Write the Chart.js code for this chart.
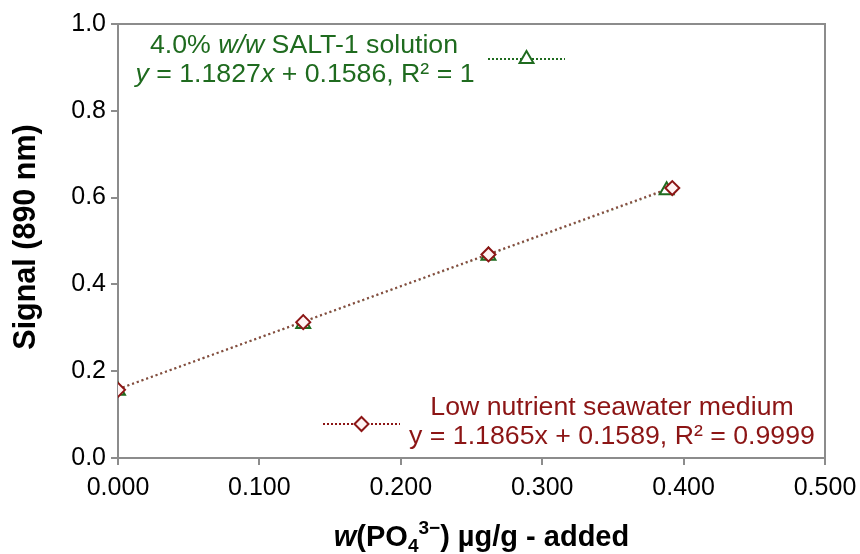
<!DOCTYPE html>
<html>
<head>
<meta charset="utf-8">
<script src="https://cdn.jsdelivr.net/npm/chart.js@4.4.0/dist/chart.umd.min.js"></script>
<style>
  html, body { margin: 0; padding: 0; background: #fff; }
  #wrap { width: 860px; height: 554px; }
</style>
</head>
<body>
<div id="wrap"><canvas id="calChart" width="860" height="554"></canvas></div>
<script>
// 4.0% w/w SALT-1 solution (triangles)
const saltX = [0.000, 0.131, 0.262, 0.388];
const saltY = [0.155, 0.309, 0.466, 0.617];
// Low nutrient seawater medium (diamonds)
const seaX = [0.000, 0.131, 0.262, 0.392];
const seaY = [0.157, 0.313, 0.469, 0.622];
// linear trendline end points
const saltTrendX = [0.000, 0.388];
const saltTrendY = [0.1586, 0.6175];
const seaTrendX = [0.000, 0.392];
const seaTrendY = [0.1589, 0.6240];

const GREEN = '#1f6b1f';
const RED = '#8c1515';
const AXIS = '#8c8c8c';
const FONT = '"Liberation Sans", Arial, sans-serif';

const toPoints = (xs, ys) => xs.map((x, i) => ({ x: x, y: ys[i] }));

// draw a line of text made of styled pieces, centred on cx
function richText(ctx, parts, cx, cy, size, color, bold) {
    const fontOf = p => {
        const s = (p.sub || p.sup) ? Math.round(size * 0.65) : size;
        return (p.i ? 'italic ' : '') + (bold ? 'bold ' : '') + s + 'px ' + FONT;
    };
    let total = 0;
    parts.forEach(p => { ctx.font = fontOf(p); total += ctx.measureText(p.t).width; });
    let x = cx - total / 2;
    ctx.fillStyle = color;
    ctx.textAlign = 'left';
    ctx.textBaseline = 'middle';
    parts.forEach(p => {
        ctx.font = fontOf(p);
        let dy = 0;
        if (p.sub) dy = size * 0.3;
        if (p.sup) dy = -size * 0.32;
        ctx.fillText(p.t, x, cy + dy);
        x += ctx.measureText(p.t).width;
    });
}

function legendSample(ctx, x1, x2, y, color, style, radius, fill) {
    ctx.save();
    ctx.strokeStyle = color;
    ctx.lineWidth = 2;
    ctx.setLineDash([2, 2]);
    ctx.beginPath();
    ctx.moveTo(x1, y);
    ctx.lineTo(x2, y);
    ctx.stroke();
    ctx.setLineDash([]);
    ctx.fillStyle = fill;
    ctx.strokeStyle = color;
    ctx.lineWidth = 2;
    Chart.helpers.drawPoint(ctx, { pointStyle: style, radius: radius, borderWidth: 2, rotation: 0 }, (x1 + x2) / 2, y);
    ctx.restore();
}

const decorations = {
    id: 'decorations',
    beforeDatasetsDraw(chart) {
        const { ctx, chartArea: a } = chart;
        ctx.save();
        ctx.strokeStyle = AXIS;
        ctx.lineWidth = 2;
        ctx.strokeRect(a.left, a.top, a.right - a.left, a.bottom - a.top);
        ctx.restore();
    },
    afterDraw(chart) {
        const { ctx, chartArea: a } = chart;
        ctx.save();
        // green legend
        richText(ctx, [{ t: '4.0% ' }, { t: 'w/w', i: true }, { t: ' SALT-1 solution' }], a.left + 186, a.top + 22, 26.7, GREEN);
        richText(ctx, [{ t: 'y', i: true }, { t: ' = 1.1827' }, { t: 'x', i: true }, { t: ' + 0.1586, R² = 1' }], a.left + 187, a.top + 51, 26.7, GREEN);
        legendSample(ctx, a.left + 370, a.left + 447, a.top + 35, GREEN, 'triangle', 8, '#ffffff');
        // red legend
        richText(ctx, [{ t: 'Low nutrient seawater medium' }], a.left + 494, a.top + 384, 26.7, RED);
        richText(ctx, [{ t: 'y = 1.1865x + 0.1589, R² = 0.9999' }], a.left + 494, a.top + 413, 26.7, RED);
        legendSample(ctx, a.left + 205, a.left + 282, a.top + 400, RED, 'rectRot', 7, '#fff3f3');
        // axis titles
        richText(ctx, [{ t: 'w', i: true }, { t: '(PO' }, { t: '4', sub: true }, { t: '3−', sup: true }, { t: ') µg/g - added' }],
            (a.left + a.right) / 2 + 10, 538, 29, '#000', true);
        ctx.translate(27, (a.top + a.bottom) / 2 - 4);
        ctx.rotate(-Math.PI / 2);
        richText(ctx, [{ t: 'Signal (890 nm)' }], 0, 0, 30.5, '#000', true);
        ctx.restore();
    }
};

new Chart(document.getElementById('calChart').getContext('2d'), {
    type: 'scatter',
    data: {
        // first dataset is painted last (on top)
        datasets: [
            {
                label: 'Low nutrient seawater medium',
                data: toPoints(seaX, seaY),
                pointStyle: 'rectRot',
                pointRadius: 7,
                pointBorderWidth: 2,
                borderColor: RED,
                backgroundColor: '#fff3f3'
            },
            {
                label: '4.0% w/w SALT-1 solution',
                data: toPoints(saltX, saltY),
                pointStyle: 'triangle',
                pointRadius: 8,
                pointBorderWidth: 2,
                borderColor: GREEN,
                backgroundColor: '#ffffff'
            },
            {
                label: 'Seawater trend',
                data: toPoints(seaTrendX, seaTrendY),
                showLine: true,
                borderColor: 'rgba(135,65,55,0.9)',
                borderWidth: 2,
                borderDash: [2, 3],
                pointRadius: 0
            },
            {
                label: 'SALT-1 trend',
                data: toPoints(saltTrendX, saltTrendY),
                showLine: true,
                borderColor: 'rgba(90,100,60,0.7)',
                borderWidth: 2,
                borderDash: [2, 3],
                pointRadius: 0
            }
        ]
    },
    options: {
        responsive: false,
        animation: false,
        layout: { padding: { top: 24, right: 35, left: 0, bottom: 0 } },
        plugins: {
            legend: { display: false },
            tooltip: { enabled: false }
        },
        scales: {
            x: {
                min: 0,
                max: 0.5,
                afterFit: scale => { scale.height = 96; scale.paddingRight = 0; scale.paddingLeft = 0; },
                ticks: {
                    stepSize: 0.1,
                    padding: 8,
                    color: '#000',
                    font: { family: FONT, size: 25 },
                    callback: v => v.toFixed(3)
                },
                grid: { drawOnChartArea: false, color: AXIS, lineWidth: 2, tickLength: 7 },
                border: { display: true, color: AXIS, width: 2 }
            },
            y: {
                min: 0,
                max: 1,
                afterFit: scale => { scale.width = 118; scale.paddingTop = 0; scale.paddingBottom = 0; },
                ticks: {
                    stepSize: 0.2,
                    padding: 5,
                    color: '#000',
                    font: { family: FONT, size: 25 },
                    callback: v => v.toFixed(1)
                },
                grid: { drawOnChartArea: false, color: AXIS, lineWidth: 2, tickLength: 7 },
                border: { display: true, color: AXIS, width: 2 }
            }
        }
    },
    plugins: [decorations]
});
</script>
</body>
</html>
